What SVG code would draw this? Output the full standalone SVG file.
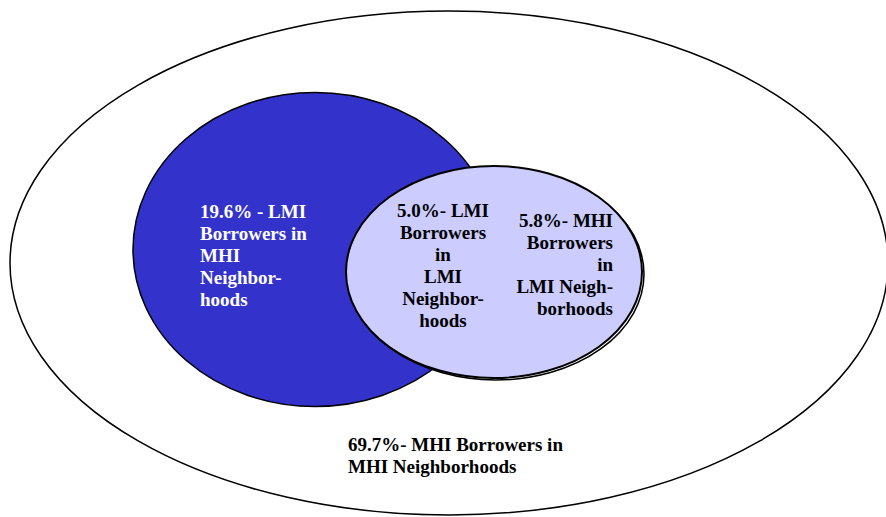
<svg xmlns="http://www.w3.org/2000/svg" width="886" height="517" viewBox="0 0 886 517">
<style>
text{font-family:"Liberation Serif","Times New Roman",serif;font-weight:bold;font-size:19px}
.w{fill:#ffffff}
.k{fill:#000000}
</style>
<rect width="886" height="517" fill="#ffffff"/>
<g id="outer">
<ellipse cx="449" cy="263" rx="439" ry="252" fill="#ffffff" stroke="#000" stroke-width="1.5"/>
<text class="k" x="348" y="451">69.7%- MHI Borrowers in</text>
<text class="k" x="348" y="473">MHI Neighborhoods</text>
</g>
<g id="lmi-borrowers">
<ellipse cx="315" cy="249.5" rx="182" ry="157" fill="#3333CC" stroke="#000" stroke-width="1.5"/>
<text class="w" x="200" y="218">19.6% - LMI</text>
<text class="w" x="200" y="240">Borrowers in</text>
<text class="w" x="200" y="262">MHI</text>
<text class="w" x="200" y="284">Neighbor-</text>
<text class="w" x="200" y="306">hoods</text>
</g>
<g id="lmi-neighborhoods">
<ellipse cx="496" cy="274" rx="148" ry="106" fill="none" stroke="#000" stroke-width="1.5"/>
<ellipse cx="494" cy="272" rx="148" ry="106" fill="#CCCCFF" stroke="#000" stroke-width="2"/>
<text class="k" x="443" y="217" text-anchor="middle">5.0%- LMI</text>
<text class="k" x="443" y="239" text-anchor="middle">Borrowers</text>
<text class="k" x="443" y="261" text-anchor="middle">in</text>
<text class="k" x="443" y="283" text-anchor="middle">LMI</text>
<text class="k" x="443" y="305" text-anchor="middle">Neighbor-</text>
<text class="k" x="443" y="327" text-anchor="middle">hoods</text>
<text class="k" x="613" y="227" text-anchor="end">5.8%- MHI</text>
<text class="k" x="613" y="249" text-anchor="end">Borrowers</text>
<text class="k" x="613" y="271" text-anchor="end">in</text>
<text class="k" x="613" y="293" text-anchor="end">LMI Neigh-</text>
<text class="k" x="613" y="315" text-anchor="end">borhoods</text>
</g>
<g id="connectors"/>
</svg>
